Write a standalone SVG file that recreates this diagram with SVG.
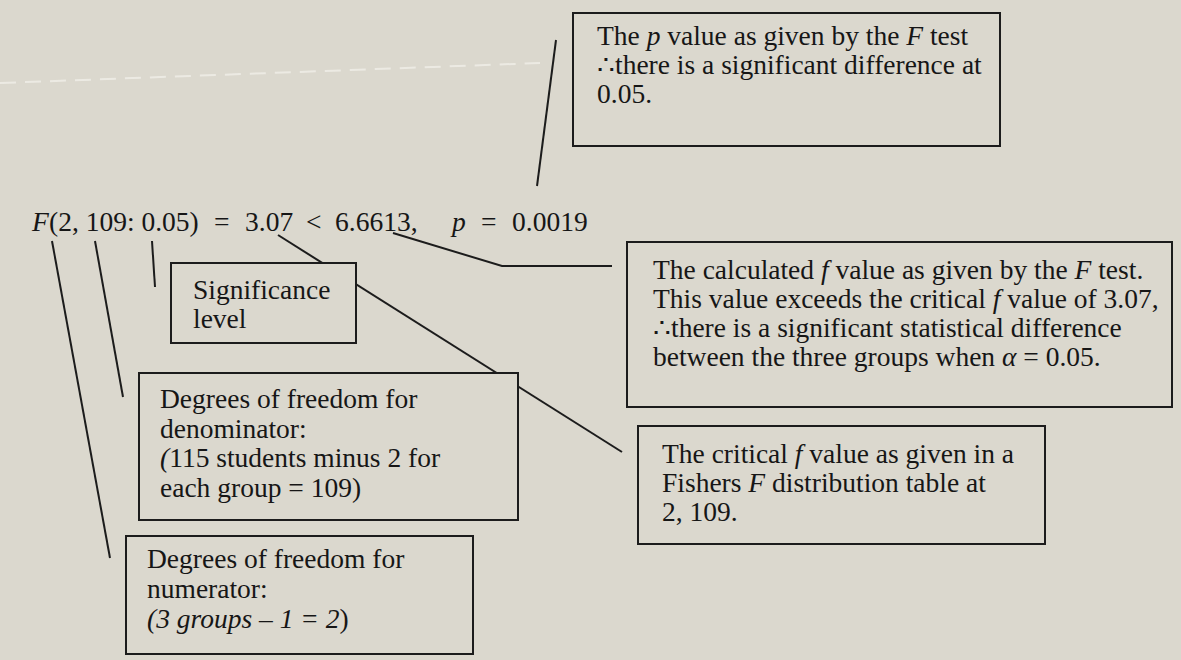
<svg xmlns="http://www.w3.org/2000/svg" width="1181" height="660" viewBox="0 0 1181 660">
  <style>
    .bg { fill: #dbd8ce; }
    .box { fill: #dbd8ce; stroke: #1c1c1c; stroke-width: 2; }
    .ln { fill: none; stroke: #1c1c1c; stroke-width: 2; }
    .scan { fill: none; stroke: #f4f2ec; stroke-width: 2; stroke-dasharray: 16 9; opacity: 0.7; }
    text { font-family: "Liberation Serif", "Times New Roman", serif; font-size: 27.5px; fill: #161616; }
    .i { font-style: italic; }
  </style>

  <rect class="bg" x="0" y="0" width="1181" height="660"/>
  <!-- faint ruled line across the top of the page -->
  <path class="scan" d="M0 83 L540 63"/>

  <!-- leader lines from the formula to the callout boxes (boxes are drawn over them) -->
  <g id="connectors">
    <path class="ln" d="M556 40 L537 186"/>
    <path class="ln" d="M393 233 L502 266 L612 266"/>
    <path class="ln" d="M278 235 L622 452"/>
    <path class="ln" d="M152 241 L155 287"/>
    <path class="ln" d="M95 241 L123 397"/>
    <path class="ln" d="M52 241 L110 558"/>
  </g>

  <g id="formula">
    <text y="231"><tspan class="i" x="32">F</tspan><tspan x="49">(2, 109: 0.05)</tspan><tspan x="214">=</tspan><tspan x="245">3.07</tspan><tspan x="306">&lt;</tspan><tspan x="335">6.6613,</tspan><tspan class="i" x="452">p</tspan><tspan x="481">=</tspan><tspan x="512">0.0019</tspan></text>
  </g>

  <g id="p-value-note">
    <rect class="box" x="573" y="13" width="427" height="133"/>
    <text x="597" y="45">The <tspan class="i">p</tspan> value as given by the <tspan class="i">F</tspan> test</text>
    <text x="597" y="74">∴there is a significant difference at</text>
    <text x="597" y="103">0.05.</text>
  </g>

  <g id="calculated-f-note">
    <rect class="box" x="627" y="242" width="545" height="165"/>
    <text x="653" y="279">The calculated <tspan class="i">f</tspan> value as given by the <tspan class="i">F</tspan> test.</text>
    <text x="653" y="308">This value exceeds the critical <tspan class="i">f</tspan> value of 3.07,</text>
    <text x="653" y="337">∴there is a significant statistical difference</text>
    <text x="653" y="366">between the three groups when <tspan class="i">α</tspan> = 0.05.</text>
  </g>

  <g id="significance-note">
    <rect class="box" x="171" y="263" width="185" height="80"/>
    <text x="193" y="299">Significance</text>
    <text x="193" y="328">level</text>
  </g>

  <g id="denominator-note">
    <rect class="box" x="139" y="373" width="379" height="147"/>
    <text x="160" y="408">Degrees of freedom for</text>
    <text x="160" y="438">denominator:</text>
    <text x="160" y="467"><tspan class="i">(</tspan>115 students minus 2 for</text>
    <text x="160" y="497">each group = 109)</text>
  </g>

  <g id="critical-f-note">
    <rect class="box" x="638" y="426" width="407" height="118"/>
    <text x="662" y="463">The critical <tspan class="i">f</tspan> value as given in a</text>
    <text x="662" y="492">Fishers <tspan class="i">F</tspan> distribution table at</text>
    <text x="662" y="521">2, 109.</text>
  </g>

  <g id="numerator-note">
    <rect class="box" x="126" y="536" width="347" height="118"/>
    <text x="147" y="568">Degrees of freedom for</text>
    <text x="147" y="598">numerator:</text>
    <text x="147" y="628"><tspan class="i">(3 groups – 1 = 2</tspan>)</text>
  </g>
</svg>
